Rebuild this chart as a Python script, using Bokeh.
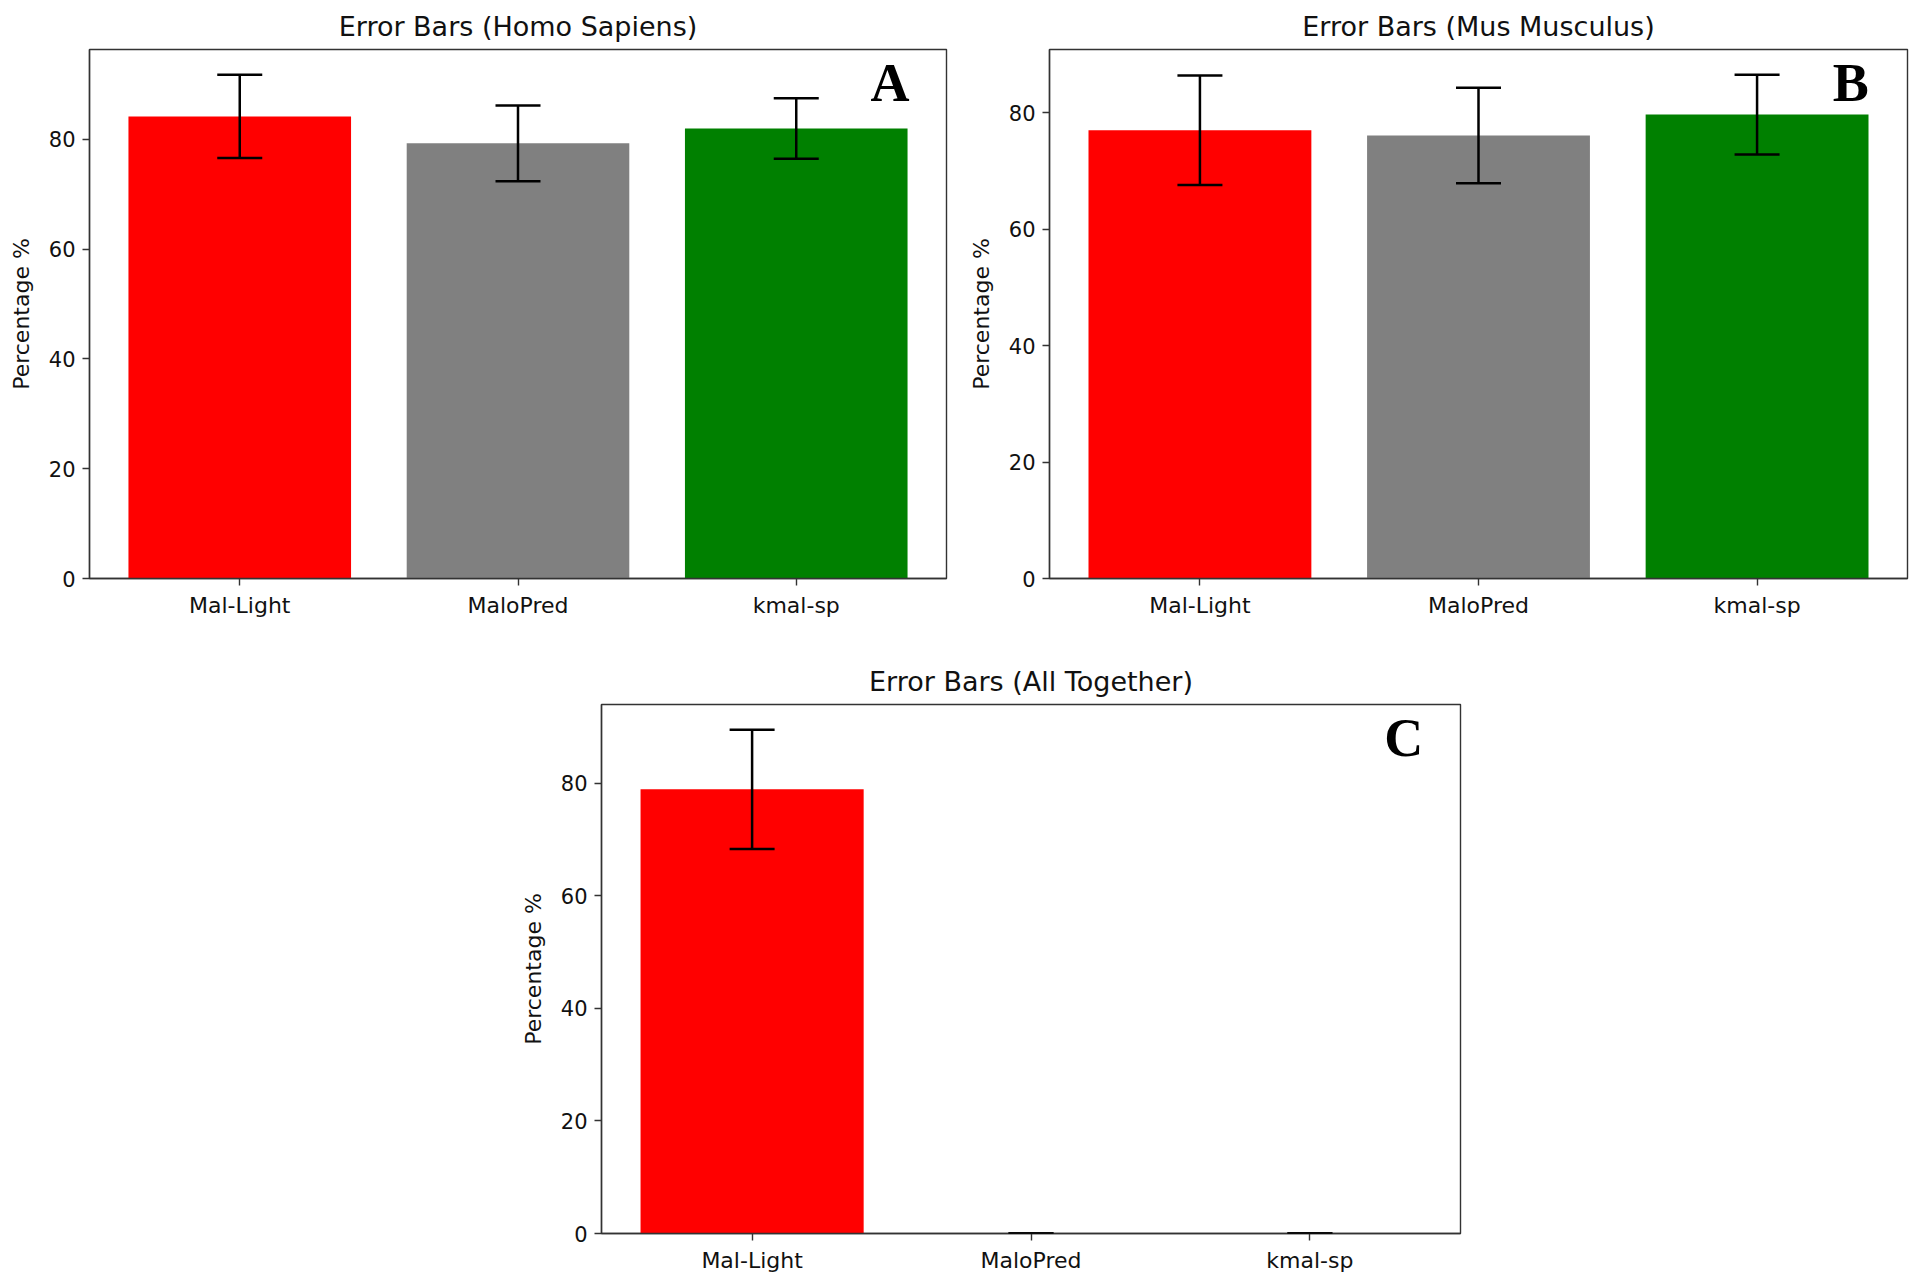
from bokeh.plotting import figure
from bokeh.models import Range1d, FixedTicker, ColumnDataSource, Whisker, TeeHead, Spacer
from bokeh.layouts import column, row
from bokeh.embed import file_html
from bokeh.resources import INLINE
from bokeh.core.properties import value

categories = ["Mal-Light", "MaloPred", "kmal-sp"]
bar_colors = ["#ff0000", "#808080", "#008000"]

homo_means = [84.2, 79.3, 82.0]
homo_errs = [7.6, 6.9, 5.5]

mus_means = [77.0, 76.1, 79.7]
mus_errs = [9.4, 8.2, 6.85]

all_means = [78.9, 0.0, 0.0]
all_errs = [10.6, 0.0, 0.0]

y_ticks = [0, 20, 40, 60, 80]
titles = ["Error Bars (Homo Sapiens)", "Error Bars (Mus Musculus)", "Error Bars (All Together)"]
panel_letters = ["A", "B", "C"]

SPINE = "#333333"
TXT = "#111111"


def make_panel(title, letter, means, errs, frame_w, mb_left, mb_right, mb_top, mb_bottom):
    xs = list(range(len(categories)))
    upper = [m + e for m, e in zip(means, errs)]
    lower = [m - e for m, e in zip(means, errs)]
    y_end = 1.05 * max(upper)
    x_start = -0.4 - 0.05 * (len(categories) - 1 + 0.8)
    x_end = len(categories) - 1 + 0.4 + 0.05 * (len(categories) - 1 + 0.8)

    p = figure(frame_width=frame_w, frame_height=529,
               x_range=Range1d(x_start, x_end), y_range=Range1d(0, y_end),
               output_backend="svg", toolbar_location=None,
               min_border_left=mb_left, min_border_right=mb_right,
               min_border_top=mb_top, min_border_bottom=mb_bottom,
               background_fill_color="white", border_fill_color="white")
    p.grid.visible = False
    p.outline_line_color = SPINE
    p.outline_line_width = 1.4
    p.outline_line_alpha = 1.0

    src = ColumnDataSource(dict(x=xs, top=means, color=bar_colors,
                                upper=upper, lower=lower))
    p.vbar(x="x", top="top", width=0.8, bottom=0, fill_color="color",
           line_color=None, source=src)

    w = Whisker(source=src, base="x", upper="upper", lower="lower",
                dimension="height", line_color="black", line_width=2.5,
                level="overlay",
                upper_head=TeeHead(size=45, line_color="black", line_width=2.5),
                lower_head=TeeHead(size=45, line_color="black", line_width=2.5))
    p.add_layout(w)

    # panel letter (axes-fraction placement)
    p.text(x=[x_start + 0.934 * (x_end - x_start)], y=[0.936 * y_end], text=[letter],
           text_font=value("Liberation Serif"), text_font_style="bold",
           text_font_size="54px", text_align="center", text_baseline="alphabetic",
           text_color="black")

    p.title.text = title
    p.title.align = "center"
    p.title.text_font = "DejaVu Sans"
    p.title.text_font_size = "27px"
    p.title.text_font_style = "normal"
    p.title.text_color = TXT
    p.title.standoff = 16

    p.xaxis.ticker = FixedTicker(ticks=xs)
    p.xaxis.major_label_overrides = {i: c for i, c in enumerate(categories)}
    p.yaxis.ticker = FixedTicker(ticks=y_ticks)
    p.yaxis.axis_label = "Percentage %"

    for ax in (p.xaxis, p.yaxis):
        ax.axis_line_color = SPINE
        ax.axis_line_width = 1.4
        ax.major_tick_line_color = SPINE
        ax.major_tick_line_width = 1.4
        ax.major_tick_out = 7
        ax.major_tick_in = 0
        ax.minor_tick_line_color = None
        ax.major_label_text_font = "DejaVu Sans"
        ax.major_label_text_color = TXT
        ax.major_label_standoff = 7
    p.xaxis.major_label_text_font_size = "22px"
    p.yaxis.major_label_text_font_size = "21px"
    p.yaxis.axis_label_text_font = "DejaVu Sans"
    p.yaxis.axis_label_text_font_size = "22px"
    p.yaxis.axis_label_text_font_style = "normal"
    p.yaxis.axis_label_text_color = TXT
    p.yaxis.axis_label_standoff = 12
    return p


pA = make_panel(titles[0], panel_letters[0], homo_means, homo_errs, 857, 85, 15, 49, 61)
pB = make_panel(titles[1], panel_letters[1], mus_means, mus_errs, 858, 88, 5, 49, 61)
pC = make_panel(titles[2], panel_letters[2], all_means, all_errs, 859, 81, 10, 65, 38)

layout = column(row(Spacer(width=4, height=10), pA, pB),
                row(Spacer(width=517, height=10), pC))

open("out.html", "w").write(file_html(layout, INLINE))
